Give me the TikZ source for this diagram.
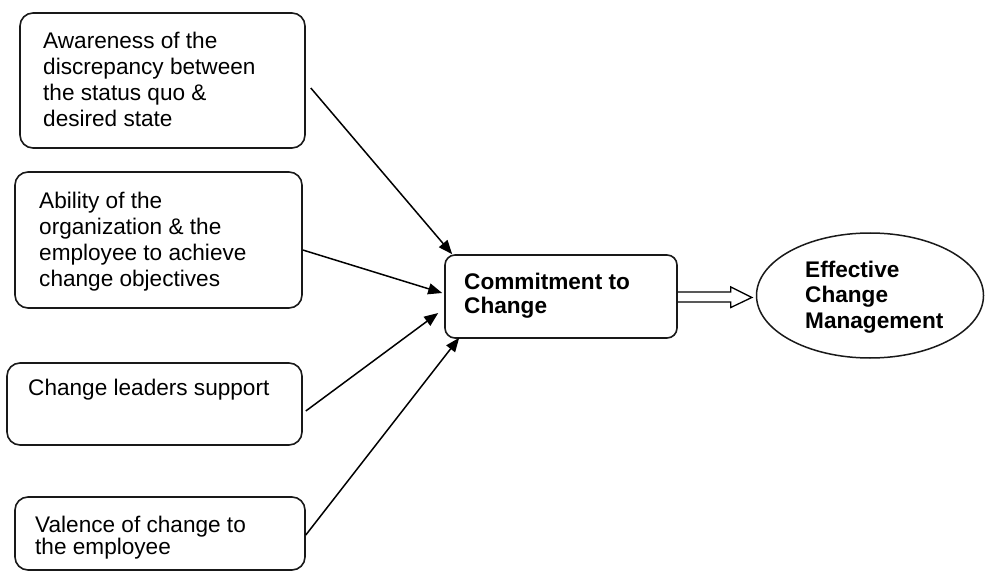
\documentclass[tikz,border=0pt]{standalone}
\usepackage{fontspec}
\setmainfont{Liberation Sans}
\usetikzlibrary{arrows.meta,shapes.geometric}
\begin{document}
\begin{tikzpicture}[x=1pt,y=-1pt,
  box/.style={draw=black!90, line width=1.6pt, rounded corners=13pt, minimum width=#1, inner sep=0pt},
  cbox/.style={draw=black!90, line width=1.6pt, rounded corners=10pt, inner sep=0pt},
  txt/.style={anchor=north west, inner sep=0pt, align=left, font=\fontsize{22.6}{#1}\selectfont},
  btxt/.style={anchor=north west, inner sep=0pt, align=left, font=\fontsize{22.6}{#1}\selectfont\bfseries},
  conn/.style={line width=1.5pt, -{Triangle[length=14pt,width=11pt]}}
]
\useasboundingbox (0,0) rectangle (985,572);
\newcommand\fstrut{\rule{0pt}{17pt}}
% boxes
\node[box=285pt, minimum height=135pt] (b1) at (162.5,80.5) {};
\node[box=287pt, minimum height=136pt] (b2) at (158.5,240) {};
\node[box=295pt, minimum height=82pt] (b3) at (154.5,404) {};
\node[box=290pt, minimum height=73pt] (b4) at (160,533.5) {};
\node[cbox, minimum width=232pt, minimum height=83pt] (cm) at (561,296.5) {};
\node[draw=black!90, line width=1.5pt, ellipse, minimum width=227pt, minimum height=125pt, inner sep=0pt] (ell) at (870,295.5) {};
% texts
\node[txt=26pt] (t1) at (43,31.5) {\fstrut Awareness of the\\discrepancy between\\the status quo \&\\desired state};
\node[txt=26pt] (t2) at (39,191) {\fstrut Ability of the\\organization \& the\\employee to achieve\\change objectives};
\node[txt=26pt] (t3) at (28,378) {\fstrut Change leaders support};
\node[txt=22pt] (t4) at (35,515) {\fstrut Valence of change to\\the employee};
\node[btxt=24.5pt] (tc) at (464,272) {\fstrut Commitment to\\Change};
\node[btxt=25.5pt] (te) at (805,260) {\fstrut Effective\\Change\\Management};
% connectors
\draw[conn] ([xshift=5pt,yshift=-7.5pt]b1.east) -- ([xshift=8pt]cm.north west);
\draw[conn] ([yshift=-10pt]b2.east) -- ([xshift=-2pt,yshift=3.5pt]cm.west);
\draw[conn] ([xshift=3pt,yshift=-7pt]b3.east) -- ([xshift=-6pt,yshift=-16.5pt]cm.west);
\draw[conn] ([yshift=-1.5pt]b4.east) -- ([xshift=15pt,yshift=1pt]cm.south west);
% block arrow
\draw[line width=1.3pt, line join=miter, shift={(cm.east)}]
  (0,-4.5) -- (53,-4.5) -- (53,-9.5) -- (74,1) -- (53,11) -- (53,5.5) -- (0,5.5);
\end{tikzpicture}
\end{document}
